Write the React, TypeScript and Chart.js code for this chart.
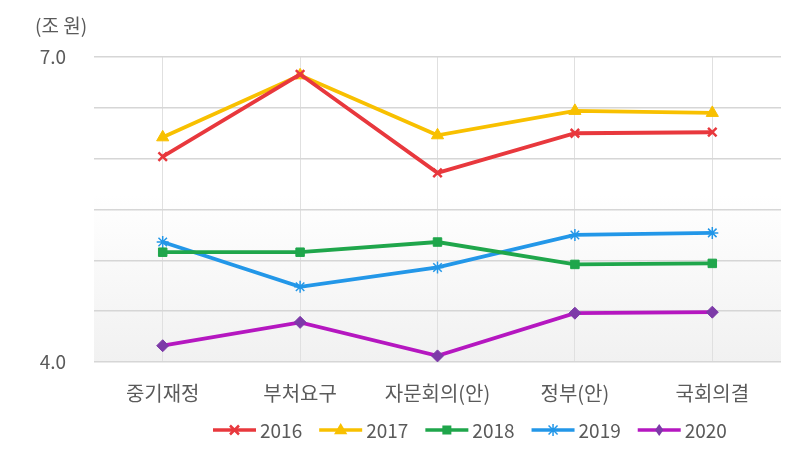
import React, { useEffect, useRef } from 'react';
import { Chart, registerables } from 'chart.js';

Chart.register(...registerables);

const categories = ['중기재정', '부처요구', '자문회의(안)', '정부(안)', '국회의결'];
const years = ['2016', '2017', '2018', '2019', '2020'];
const v2016 = [6.02, 6.83, 5.86, 6.25, 6.26];
const v2017 = [6.21, 6.82, 6.23, 6.47, 6.45];
const v2018 = [5.08, 5.08, 5.18, 4.96, 4.97];
const v2019 = [5.18, 4.74, 4.93, 5.25, 5.27];
const v2020 = [4.16, 4.39, 4.06, 4.48, 4.49];
const yTickLabels = ['4.0', '7.0'];
const unitLabel = '(조 원)';

const FONT = '"Noto Sans CJK KR", "Noto Sans", sans-serif';
const TEXT = '#5a5a5a';

const seriesStyles = [
  { color: '#e8383d', marker: '#e8383d', point: 'crossRot', radius: 6 },
  { color: '#f8c000', marker: '#f8c000', point: 'triangle', radius: 7 },
  { color: '#1fa64b', marker: '#1fa64b', point: 'rect', radius: 6 },
  { color: '#2397e8', marker: '#2397e8', point: 'star', radius: 6 },
  { color: '#b517c0', marker: '#7d3aa8', point: 'rectRot', radius: 6 },
];
const seriesValues = [v2016, v2017, v2018, v2019, v2020];

const bgPlugin = {
  id: 'bgGrad',
  beforeDraw(chart: any) {
    const { ctx, chartArea } = chart;
    const g = ctx.createLinearGradient(0, chartArea.top, 0, chartArea.bottom);
    g.addColorStop(0, '#ffffff');
    g.addColorStop(0.45, '#ffffff');
    g.addColorStop(1, '#f1f1f1');
    ctx.save();
    ctx.fillStyle = g;
    ctx.fillRect(chartArea.left, chartArea.top, chartArea.right - chartArea.left, chartArea.bottom - chartArea.top);
    ctx.restore();
  },
};

function drawMarker(ctx: CanvasRenderingContext2D, style: string, cx: number, cy: number, r: number) {
  ctx.beginPath();
  if (style === 'crossRot') {
    const d = r * 0.75;
    ctx.moveTo(cx - d, cy - d); ctx.lineTo(cx + d, cy + d);
    ctx.moveTo(cx + d, cy - d); ctx.lineTo(cx - d, cy + d);
    ctx.stroke();
  } else if (style === 'triangle') {
    ctx.moveTo(cx, cy - r);
    ctx.lineTo(cx + r * 0.95, cy + r * 0.6);
    ctx.lineTo(cx - r * 0.95, cy + r * 0.6);
    ctx.closePath();
    ctx.fill();
  } else if (style === 'rect') {
    const d = r * 0.75;
    ctx.fillRect(cx - d, cy - d, 2 * d, 2 * d);
  } else if (style === 'star') {
    const d = r * 0.75;
    ctx.moveTo(cx - d, cy - d); ctx.lineTo(cx + d, cy + d);
    ctx.moveTo(cx + d, cy - d); ctx.lineTo(cx - d, cy + d);
    ctx.moveTo(cx, cy - r); ctx.lineTo(cx, cy + r);
    ctx.moveTo(cx - r, cy); ctx.lineTo(cx + r, cy);
    ctx.lineWidth = 1.5;
    ctx.stroke();
  } else if (style === 'rectRot') {
    ctx.moveTo(cx, cy - r);
    ctx.lineTo(cx + r * 0.7, cy);
    ctx.lineTo(cx, cy + r);
    ctx.lineTo(cx - r * 0.7, cy);
    ctx.closePath();
    ctx.fill();
  }
}

const textPlugin = {
  id: 'extraText',
  afterDraw(chart: any) {
    const { ctx } = chart;
    ctx.save();
    ctx.font = `19px ${FONT}`;
    ctx.fillStyle = TEXT;
    ctx.textAlign = 'left';
    ctx.textBaseline = 'middle';
    ctx.fillText(unitLabel, 35, 26);

    // legend
    const y = 430;
    let x = 213;
    ctx.font = `19px ${FONT}`;
    chart.data.datasets.forEach((ds: any, i: number) => {
      const st = seriesStyles[i];
      ctx.strokeStyle = st.color;
      ctx.lineWidth = 3.5;
      ctx.beginPath();
      ctx.moveTo(x, y);
      ctx.lineTo(x + 43, y);
      ctx.stroke();
      ctx.lineWidth = 2.5;
      ctx.fillStyle = st.marker;
      ctx.strokeStyle = st.marker;
      drawMarker(ctx, st.point, x + 21.5, y, st.radius);
      ctx.fillStyle = TEXT;
      ctx.textAlign = 'left';
      ctx.fillText(ds.label, x + 47, y + 1);
      const w = ctx.measureText(ds.label).width;
      x += 47 + w + 17;
    });
    ctx.restore();
  },
};

export default function App() {
  const ref = useRef<HTMLCanvasElement>(null);
  useEffect(() => {
    if (!ref.current) return;
    const chart = new Chart(ref.current, {
      type: 'line',
      data: {
        labels: categories,
        datasets: years.map((y, i) => ({
          label: y,
          data: seriesValues[i],
          borderColor: seriesStyles[i].color,
          backgroundColor: seriesStyles[i].marker,
          pointBackgroundColor: seriesStyles[i].marker,
          pointBorderColor: seriesStyles[i].marker,
          pointStyle: seriesStyles[i].point as any,
          pointRadius: seriesStyles[i].radius,
          pointBorderWidth: seriesStyles[i].point === 'star' ? 1.5 : seriesStyles[i].point === 'crossRot' ? 2.5 : 1,
          borderWidth: 3.8,
          tension: 0,
          fill: false,
        })),
      },
      options: {
        animation: false,
        responsive: false,
        devicePixelRatio: 1,
        layout: { padding: { top: 57, right: 11, bottom: 0, left: 0 } },
        plugins: { legend: { display: false }, tooltip: { enabled: false } },
        scales: {
          x: {
            offset: true,
            grid: { offset: false, color: '#e0e0e0', lineWidth: 1, drawTicks: false },
            border: { display: false },
            ticks: { color: TEXT, font: { family: FONT, size: 20 }, padding: 19, maxRotation: 0 },
            afterFit(scale: any) { scale.height = 98; },
          },
          y: {
            min: 4,
            max: 7,
            grid: { color: '#d6d6d6', lineWidth: 1.5, drawTicks: false },
            border: { display: false },
            ticks: {
              stepSize: 0.5,
              color: TEXT,
              font: { family: FONT, size: 19 },
              padding: 28,
              callback: (v: any) => {
                const s = Number(v).toFixed(1);
                return yTickLabels.includes(s) ? s : '';
              },
            },
            afterFit(scale: any) { scale.width = 94; },
          },
        },
      },
      plugins: [bgPlugin, textPlugin],
    });
    return () => chart.destroy();
  }, []);
  return (
    <div style={{ position: 'absolute', left: 0, top: 0, width: 792, height: 460, background: '#fff' }}>
      <canvas ref={ref} width={792} height={460} />
    </div>
  );
}
